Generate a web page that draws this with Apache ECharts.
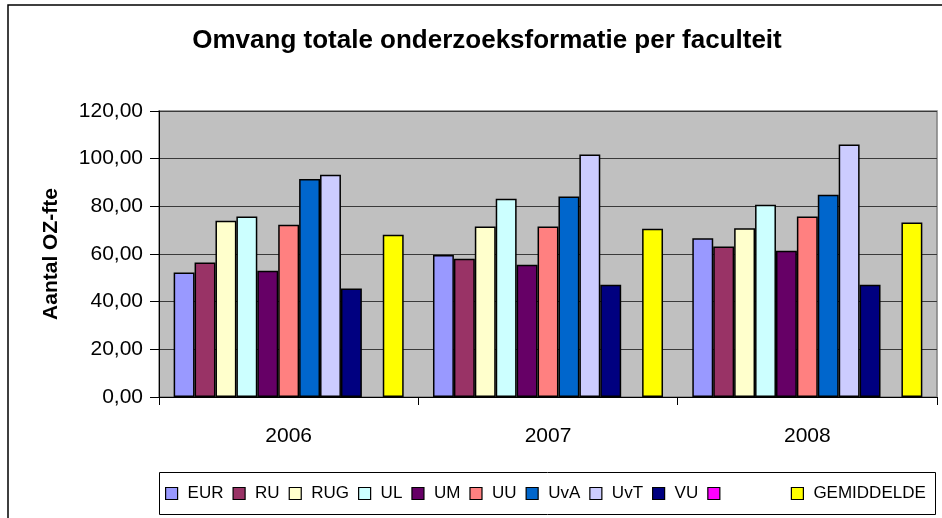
<!DOCTYPE html>
<html>
<head>
<meta charset="utf-8">
<title>Omvang totale onderzoeksformatie per faculteit</title>
<style>
  * { margin: 0; padding: 0; box-sizing: border-box; }
  body { background: #ffffff; width: 942px; height: 518px; overflow: hidden; }
  #chart { width: 942px; height: 518px; }
</style>
<script src="https://cdn.jsdelivr.net/npm/echarts@6/dist/echarts.min.js"></script>
</head>
<body>
<div id="chart"></div>
<script>
// jaren op de x-as
const years = ['2006', '2007', '2008'];

// OZ-fte per faculteit
const EUR = [52.2, 59.6, 66.6];
const RU = [56.4, 58.0, 63.1];
const RUG = [74.0, 71.5, 70.8];
const UL = [75.7, 83.2, 80.7];
const UM = [53.0, 55.5, 61.4];
const UU = [72.3, 71.5, 75.7];
const UvA = [91.5, 84.1, 84.9];
const UvT = [93.3, 101.7, 105.9];
const VU = [45.5, 47.1, 47.1];
const LEEG = [null, null, null]; // lege reeks (magenta), geen staven
const GEMIDDELDE = [68.1, 70.6, 73.2];

const yTicks = [0, 20, 40, 60, 80, 100, 120];

const FONT = 'Arial, "Liberation Sans", sans-serif';
const blankName = '\u00a0'.repeat(11);

// naam, kleur, data
const reeksen = [
  ['EUR', '#9999FF', EUR],
  ['RU', '#993366', RU],
  ['RUG', '#FFFFCC', RUG],
  ['UL', '#CCFFFF', UL],
  ['UM', '#660066', UM],
  ['UU', '#FF8080', UU],
  ['UvA', '#0066CC', UvA],
  ['UvT', '#CCCCFF', UvT],
  ['VU', '#000080', VU],
  [blankName, '#FF00FF', LEEG],
  ['GEMIDDELDE', '#FFFF00', GEMIDDELDE]
];

const fmt = (v) => v.toFixed(2).replace('.', ',');

const chart = echarts.init(document.getElementById('chart'));

const option = {
  animation: false,
  backgroundColor: '#ffffff',
  textStyle: { fontFamily: FONT },
  title: {
    text: 'Omvang totale onderzoeksformatie per faculteit',
    left: 482,
    top: 23,
    textAlign: 'center',
    textStyle: { fontFamily: FONT, fontSize: 26, fontWeight: 'bold', color: '#000' }
  },
  graphic: [
    // buitenrand van de grafiek
    {
      type: 'rect',
      shape: { x: 8, y: 5, width: 1000, height: 600 },
      style: { fill: 'none', stroke: '#000', lineWidth: 1.5 },
      silent: true
    },
    // kader rond de legenda
    {
      type: 'rect',
      shape: { x: 159.5, y: 472.5, width: 776, height: 42 },
      style: { fill: '#fff', stroke: '#000', lineWidth: 1 },
      silent: true,
      z: -1
    }
  ],
  legend: {
    data: reeksen.map(r => r[0]),
    left: 165,
    top: 485,
    width: 770,
    padding: 0,
    itemWidth: 12,
    itemHeight: 12,
    itemGap: 9,
    icon: 'rect',
    itemStyle: { borderColor: '#000', borderWidth: 1.2 },
    textStyle: { fontFamily: FONT, fontSize: 17, color: '#000', padding: [0, 0, 0, 5] },
    selectedMode: false
  },
  grid: {
    left: 159,
    right: 5,
    top: 111,
    bottom: 121,
    show: true,
    backgroundColor: '#C0C0C0',
    borderColor: '#808080',
    borderWidth: 1.5
  },
  xAxis: {
    type: 'category',
    data: years,
    axisLine: { lineStyle: { color: '#000', width: 1 } },
    axisTick: { show: true, length: 8, lineStyle: { color: '#000' } },
    axisLabel: { fontFamily: FONT, fontSize: 21, color: '#000', margin: 29 }
  },
  yAxis: {
    type: 'value',
    min: yTicks[0],
    max: yTicks[yTicks.length - 1],
    interval: 20,
    name: 'Aantal OZ-fte',
    nameLocation: 'middle',
    nameGap: 97,
    nameTextStyle: { fontFamily: FONT, fontSize: 21, fontWeight: 'bold', color: '#000' },
    axisLine: { show: true, lineStyle: { color: '#000', width: 1 } },
    axisTick: { show: true, inside: false, length: 9, lineStyle: { color: '#000' } },
    axisLabel: { fontFamily: FONT, fontSize: 21, color: '#000', margin: 16, formatter: fmt },
    splitLine: { show: true, lineStyle: { color: '#3a3a3a', width: 1 } }
  },
  series: reeksen.map(([naam, kleur, data]) => ({
    name: naam,
    type: 'bar',
    data: data,
    barGap: '0%',
    barCategoryGap: '11.3%',
    itemStyle: { color: kleur, borderColor: '#000', borderWidth: 1.5 }
  }))
};

chart.setOption(option);
</script>
</body>
</html>
